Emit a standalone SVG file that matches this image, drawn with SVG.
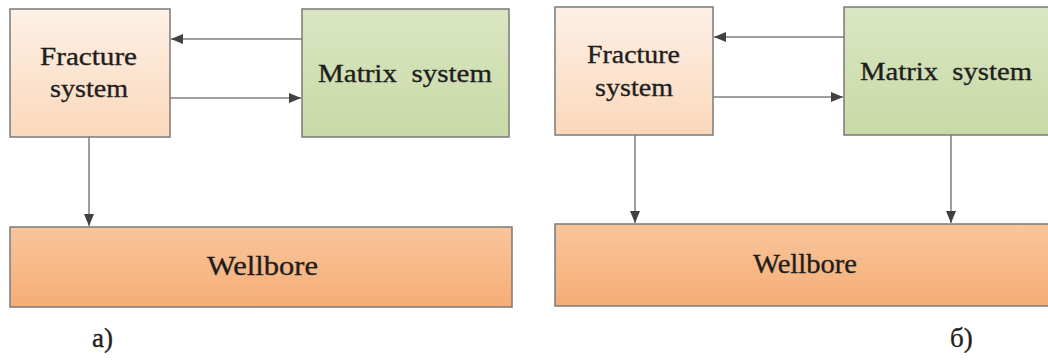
<svg xmlns="http://www.w3.org/2000/svg" width="1048" height="360" viewBox="0 0 1048 360">
<defs>
<linearGradient id="gFr" x1="0" y1="0" x2="0" y2="1"><stop offset="0" stop-color="#fdf0e6"/><stop offset="1" stop-color="#fbd8bb"/></linearGradient>
<linearGradient id="gMx" x1="0" y1="0" x2="0" y2="1"><stop offset="0" stop-color="#dae6c3"/><stop offset="1" stop-color="#c9d9a6"/></linearGradient>
<linearGradient id="gWb" x1="0" y1="0" x2="0" y2="1"><stop offset="0" stop-color="#f9c59b"/><stop offset="1" stop-color="#f5ad76"/></linearGradient>
<marker id="arr" markerWidth="12" markerHeight="10" refX="12" refY="5" orient="auto" markerUnits="userSpaceOnUse"><path d="M0,0 L12,5 L0,10 Z" fill="#404040"/></marker>
</defs>
<style>
.box{stroke:#7a7a7a;stroke-width:1.5}
.fr{fill:url(#gFr)}
.mx{fill:url(#gMx)}
.wb{fill:url(#gWb)}
.t{fill:#1e1e1e;stroke:#1e1e1e;stroke-width:0.35}
.c{stroke:#7f7f7f;stroke-width:1.5;fill:none;marker-end:url(#arr)}
</style>
<rect width="1048" height="360" fill="#ffffff"/>
<g id="connectors">
<line class="c" x1="302" y1="39" x2="171" y2="39"/>
<line class="c" x1="170" y1="98" x2="301" y2="98"/>
<line class="c" x1="89" y1="137" x2="89" y2="226"/>
<line class="c" x1="844" y1="37" x2="714" y2="37"/>
<line class="c" x1="713" y1="97" x2="843" y2="97"/>
<line class="c" x1="635" y1="135" x2="635" y2="223"/>
<line class="c" x1="951" y1="135" x2="951" y2="223"/>
</g>
<g font-family="'Liberation Serif', 'DejaVu Serif', serif">
<g id="a-fracture">
<rect class="box fr" x="10" y="9" width="160" height="128"/>
<text class="t" x="40" y="65" font-size="26" textLength="97" lengthAdjust="spacingAndGlyphs">Fracture</text>
<text class="t" x="50" y="97" font-size="26" textLength="78" lengthAdjust="spacingAndGlyphs">system</text>
</g>
<g id="a-matrix">
<rect class="box mx" x="302" y="9" width="207" height="128"/>
<text class="t" x="318" y="82" font-size="26" textLength="174" lengthAdjust="spacingAndGlyphs" xml:space="preserve">Matrix  system</text>
</g>
<g id="a-wellbore">
<rect class="box wb" x="10" y="227" width="502" height="80"/>
<text class="t" x="207" y="275" font-size="27" textLength="111" lengthAdjust="spacingAndGlyphs">Wellbore</text>
</g>
<text id="label-a" class="t" x="92" y="347" font-size="27" stroke-width="0.2">a)</text>
<g id="b-fracture">
<rect class="box fr" x="555" y="7" width="158" height="128"/>
<text class="t" x="587" y="63" font-size="26" textLength="93" lengthAdjust="spacingAndGlyphs">Fracture</text>
<text class="t" x="595" y="96" font-size="26" textLength="78" lengthAdjust="spacingAndGlyphs">system</text>
</g>
<g id="b-matrix">
<rect class="box mx" x="844" y="7" width="210" height="128"/>
<text class="t" x="860" y="80" font-size="26" textLength="172" lengthAdjust="spacingAndGlyphs" xml:space="preserve">Matrix  system</text>
</g>
<g id="b-wellbore">
<rect class="box wb" x="555" y="224" width="499" height="82"/>
<text class="t" x="753" y="273" font-size="27" textLength="104" lengthAdjust="spacingAndGlyphs">Wellbore</text>
</g>
<text id="label-b" class="t" x="950" y="347" font-size="27" stroke-width="0.2">б)</text>
</g>
</svg>
